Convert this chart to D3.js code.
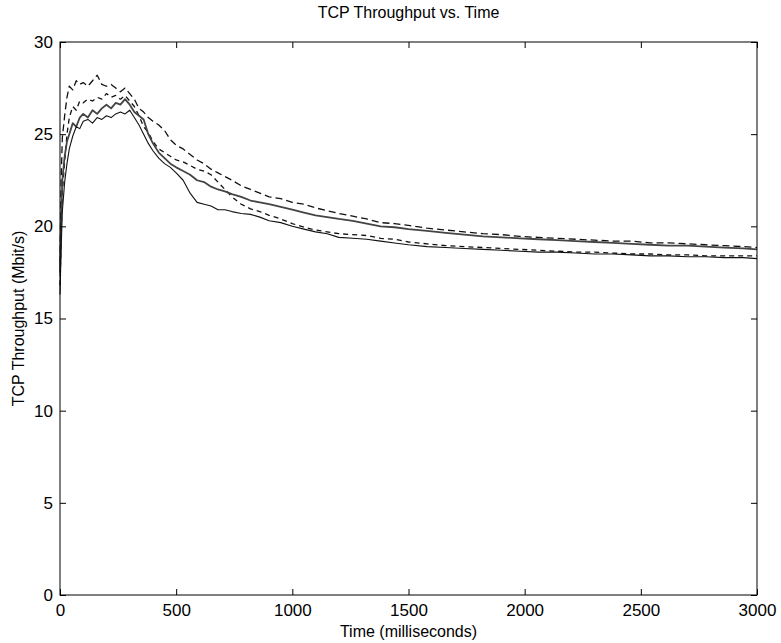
<!DOCTYPE html>
<html>
<head>
<meta charset="utf-8">
<script src="https://cdn.jsdelivr.net/npm/d3@7"></script>
<style>
  body { margin: 0; background: #fff; }
  svg { display: block; }
</style>
</head>
<body>
<svg id="canvas" width="781" height="643"></svg>
<script>
// time grid (ms), shared by all runs
var timeMs = [0,5,10,20,30,40,55,70,85,100,120,140,160,180,200,220,240,260,280,300,
  320,340,360,380,400,425,450,475,500,530,560,590,620,650,680,710,740,780,820,860,
  900,950,1000,1050,1100,1150,1200,1260,1320,1380,1440,1500,1580,1660,1740,1820,1900,1980,2060,2140,
  2220,2300,2380,2460,2540,2620,2700,2780,2860,2940,3000];

// throughput (Mbit/s), one array per run
var runA = [18.0,22.5,24.8,26.0,27.0,27.6,27.4,27.9,27.7,27.8,27.6,27.9,28.2,27.7,27.6,27.7,27.5,27.3,27.5,27.2,
  26.9,26.4,26.2,25.9,25.7,25.5,25.2,24.7,24.4,24.2,23.9,23.6,23.4,23.1,22.9,22.7,22.5,22.2,22.0,21.8,
  21.6,21.5,21.3,21.2,21.0,20.85,20.7,20.55,20.4,20.2,20.15,20.05,19.9,19.8,19.7,19.6,19.55,19.45,19.4,19.35,
  19.3,19.25,19.2,19.2,19.1,19.1,19.05,19.0,18.95,18.9,18.85];

var runB = [16.8,19.5,21.8,23.5,25.0,25.9,26.5,26.3,26.8,26.7,26.9,26.8,27.0,26.9,27.2,27.0,27.1,26.9,27.1,26.8,
  26.5,26.0,25.4,25.1,24.6,24.2,24.0,23.8,23.6,23.5,23.3,23.1,23.0,22.8,22.4,22.0,21.6,21.2,20.95,20.8,
  20.6,20.4,20.15,19.95,19.8,19.7,19.6,19.55,19.5,19.35,19.3,19.15,19.05,18.95,18.9,18.85,18.8,18.75,18.7,18.65,
  18.6,18.6,18.55,18.5,18.5,18.45,18.45,18.4,18.4,18.4,18.4];

var runC = [17.5,20.5,22.5,23.8,24.6,25.0,25.6,25.4,25.9,26.1,25.9,26.3,26.1,26.4,26.6,26.4,26.7,26.6,26.9,26.6,
  26.2,26.0,25.8,25.0,24.5,24.0,23.7,23.4,23.2,23.0,22.8,22.5,22.4,22.15,22.0,21.9,21.75,21.6,21.4,21.3,
  21.2,21.05,20.9,20.75,20.6,20.5,20.4,20.3,20.15,20.0,19.95,19.85,19.75,19.65,19.55,19.45,19.4,19.35,19.3,19.25,
  19.2,19.15,19.1,19.05,19.0,18.95,18.95,18.9,18.85,18.8,18.75];

var runD = [16.3,18.8,20.8,22.4,23.4,24.2,24.9,25.4,25.3,25.7,25.8,25.6,25.9,25.8,26.0,25.9,26.1,26.2,26.1,26.3,
  25.9,25.5,25.0,24.5,24.1,23.7,23.4,23.2,22.9,22.5,21.8,21.3,21.2,21.1,20.9,20.9,20.8,20.7,20.65,20.5,
  20.3,20.2,20.0,19.85,19.7,19.6,19.4,19.35,19.3,19.2,19.1,19.0,18.9,18.85,18.8,18.75,18.7,18.65,18.6,18.6,
  18.55,18.5,18.5,18.45,18.4,18.4,18.35,18.35,18.3,18.3,18.25];

var xTicks = [0,500,1000,1500,2000,2500,3000];
var yTicks = [0,5,10,15,20,25,30];

var titleText = "TCP Throughput vs. Time";
var xLabel = "Time (milliseconds)";
var yLabel = "TCP Throughput (Mbit/s)";

(function () {
    var left = 60, right = 757, top = 42, bottom = 595;
    var font = "'Liberation Sans', Arial, Helvetica, sans-serif";

    var svg = d3.select("#canvas");

    var x = d3.scaleLinear().domain([0, 3000]).range([left, right]);
    var y = d3.scaleLinear().domain([0, 30]).range([bottom, top]);

    var runs = [
        { values: runA, dash: "7,4", width: 1.3 },
        { values: runB, dash: "5,4", width: 1.3 },
        { values: runC, dash: null, width: 1.8 },
        { values: runD, dash: null, width: 1.1 }
    ];

    var line = d3.line()
        .x(function (d, i) { return x(timeMs[i]); })
        .y(function (d) { return y(d); });

    svg.append("g")
        .selectAll("path")
        .data(runs)
        .join("path")
        .attr("d", function (r) { return line(r.values); })
        .attr("fill", "none")
        .attr("stroke", function (r, i) { return i == 2 ? "#444" : "#111"; })
        .attr("stroke-width", function (r) { return r.width; })
        .attr("stroke-dasharray", function (r) { return r.dash; })
        .attr("stroke-linejoin", "round");

    //axes, ticks point inward on all four sides
    function style(g) {
        g.select(".domain").remove();
        g.selectAll("line").attr("stroke", "#000");
        g.selectAll("text").attr("font-size", 17).attr("font-family", font).attr("fill", "#000");
    }

    svg.append("g")
        .attr("transform", "translate(0," + bottom + ")")
        .call(d3.axisBottom(x).tickValues(xTicks).tickSize(-6).tickPadding(9).tickFormat(d3.format("d")))
        .call(style);

    svg.append("g")
        .attr("transform", "translate(0," + top + ")")
        .call(d3.axisTop(x).tickValues(xTicks).tickSize(-6).tickFormat(""))
        .call(style);

    svg.append("g")
        .attr("transform", "translate(" + left + ",0)")
        .call(d3.axisLeft(y).tickValues(yTicks).tickSize(-6).tickPadding(7).tickFormat(d3.format("d")))
        .call(style);

    svg.append("g")
        .attr("transform", "translate(" + right + ",0)")
        .call(d3.axisRight(y).tickValues(yTicks).tickSize(-6).tickFormat(""))
        .call(style);

    svg.append("rect")
        .attr("x", left).attr("y", top)
        .attr("width", right - left).attr("height", bottom - top)
        .attr("fill", "none").attr("stroke", "#000").attr("stroke-width", 1);

    svg.append("text")
        .attr("x", (left + right) / 2).attr("y", 18)
        .attr("text-anchor", "middle")
        .attr("font-family", font).attr("font-size", 16)
        .text(titleText);

    svg.append("text")
        .attr("x", (left + right) / 2).attr("y", 637)
        .attr("text-anchor", "middle")
        .attr("font-family", font).attr("font-size", 16)
        .text(xLabel);

    svg.append("text")
        .attr("transform", "translate(24," + ((top + bottom) / 2) + ") rotate(-90)")
        .attr("text-anchor", "middle")
        .attr("font-family", font).attr("font-size", 16)
        .text(yLabel);
})();
</script>
</body>
</html>
